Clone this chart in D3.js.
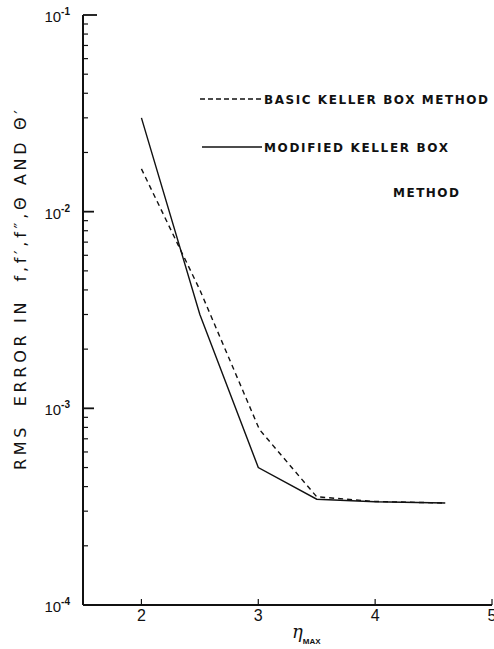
<!DOCTYPE html>
<html lang="en">
<head>
    <meta charset="UTF-8">
    <title>RMS error vs eta max</title>
    <script src="https://cdn.jsdelivr.net/npm/d3@7"></script>
    <style>
        body { margin: 0; background: #fff; }
        svg { display: block; }
        text { font-family: "Liberation Sans", Arial, sans-serif; fill: #111; white-space: pre; }
    </style>
</head>
<body>
    <div id="chart"></div>

    <script>
        // values
        const etaModified = [2, 2.5, 3, 3.5, 4, 4.6];
        const errModified = [0.030, 0.0030, 5.0e-4, 3.45e-4, 3.35e-4, 3.3e-4];
        const etaBasic = [2, 2.5, 3.01, 3.5, 4, 4.6];
        const errBasic = [0.0165, 0.0040, 7.8e-4, 3.55e-4, 3.36e-4, 3.3e-4];
        const xTicks = [2, 3, 4, 5];
        const yMajor = [1e-1, 1e-2, 1e-3, 1e-4];
        const yExponents = ["-1", "-2", "-3", "-4"];

        const width = 494, height = 649;
        const svg = d3.select('#chart').append('svg')
            .attr('width', width)
            .attr('height', height);

        const x = d3.scaleLinear().domain([1.5, 5]).range([83, 492]);
        const y = d3.scaleLog().domain([1e-4, 1e-1]).range([605, 15]);

        // minor ticks 2..9 in each decade
        const yMinor = [];
        [1e-4, 1e-3, 1e-2].forEach(d => {
            for (let k = 2; k <= 9; k++) yMinor.push(d * k);
        });

        const axes = svg.append('g').attr('stroke', '#111');

        // axis lines
        axes.append('line')
            .attr('x1', x(1.5)).attr('x2', x(1.5))
            .attr('y1', y(1e-1)).attr('y2', y(1e-4))
            .attr('stroke-width', 2);
        axes.append('line')
            .attr('x1', x(1.5)).attr('x2', x(5))
            .attr('y1', y(1e-4)).attr('y2', y(1e-4))
            .attr('stroke-width', 2);

        // y ticks point inward
        axes.selectAll('.minor')
            .data(yMinor)
            .enter().append('line')
            .attr('class', 'minor')
            .attr('x1', x(1.5)).attr('x2', x(1.5) + 5)
            .attr('y1', d => y(d)).attr('y2', d => y(d))
            .attr('stroke-width', 1.2);
        axes.selectAll('.major')
            .data(yMajor.slice(0, 3))
            .enter().append('line')
            .attr('class', 'major')
            .attr('x1', x(1.5)).attr('x2', (d, i) => x(1.5) + (i === 0 ? 14 : 11))
            .attr('y1', d => y(d)).attr('y2', d => y(d))
            .attr('stroke-width', 1.8);

        // x ticks point up
        axes.selectAll('.xtick')
            .data(xTicks)
            .enter().append('line')
            .attr('class', 'xtick')
            .attr('x1', d => x(d)).attr('x2', d => x(d))
            .attr('y1', y(1e-4)).attr('y2', y(1e-4) - 6)
            .attr('stroke-width', 1.2);

        svg.append('g').selectAll('text')
            .data(xTicks)
            .enter().append('text')
            .attr('x', d => x(d))
            .attr('y', y(1e-4) + 16)
            .attr('text-anchor', 'middle')
            .style('font-size', '16px')
            .text(d => d);

        // y labels 10^-n
        const yLab = svg.append('g').selectAll('text')
            .data(yMajor)
            .enter().append('text')
            .attr('x', 70)
            .attr('y', d => y(d) + 7)
            .attr('text-anchor', 'end')
            .style('font-size', '15px');
        yLab.append('tspan').text('10');
        yLab.append('tspan')
            .attr('dy', -7)
            .style('font-size', '10px')
            .style('font-weight', 'bold')
            .text((d, i) => yExponents[i]);

        // x label  eta_MAX
        const xl = svg.append('text')
            .attr('x', 292)
            .attr('y', 638);
        xl.append('tspan')
            .style('font-family', '"DejaVu Serif", serif')
            .style('font-style', 'italic')
            .style('font-size', '18px')
            .text('η');
        xl.append('tspan')
            .attr('dy', 6)
            .style('font-size', '8px')
            .style('font-weight', 'bold')
            .text('MAX');

        // y label
        svg.append('text')
            .attr('transform', 'translate(26,290) rotate(-90)')
            .attr('text-anchor', 'middle')
            .attr('textLength', 360)
            .attr('lengthAdjust', 'spacing')
            .style('font-family', '"DejaVu Sans", sans-serif')
            .style('font-size', '16px')
            .text('RMS  ERROR IN  f,f′,f″,Θ AND Θ′');

        // lines
        const line = d3.line()
            .x(d => x(d[0]))
            .y(d => y(d[1]));

        svg.append('path')
            .datum(d3.zip(etaModified, errModified))
            .attr('d', line)
            .attr('fill', 'none')
            .attr('stroke', '#111')
            .attr('stroke-width', 1.4);

        svg.append('path')
            .datum(d3.zip(etaBasic, errBasic))
            .attr('d', line)
            .attr('fill', 'none')
            .attr('stroke', '#111')
            .attr('stroke-width', 1.4)
            .attr('stroke-dasharray', '5,4');

        // legend
        const legendFont = '"DejaVu Sans", sans-serif';
        svg.append('line')
            .attr('x1', 200).attr('x2', 262)
            .attr('y1', 99).attr('y2', 99)
            .attr('stroke', '#111').attr('stroke-width', 1.4)
            .attr('stroke-dasharray', '5,3');
        svg.append('text')
            .attr('x', 264).attr('y', 103.5)
            .attr('textLength', 224)
            .attr('lengthAdjust', 'spacing')
            .style('font-family', legendFont)
            .style('font-size', '12px').style('font-weight', 'bold')
            .text('BASIC KELLER BOX METHOD');

        svg.append('line')
            .attr('x1', 202).attr('x2', 262)
            .attr('y1', 147).attr('y2', 147)
            .attr('stroke', '#111').attr('stroke-width', 1.4);
        svg.append('text')
            .attr('x', 264).attr('y', 151.5)
            .attr('textLength', 184)
            .attr('lengthAdjust', 'spacing')
            .style('font-family', legendFont)
            .style('font-size', '12px').style('font-weight', 'bold')
            .text('MODIFIED KELLER BOX');
        svg.append('text')
            .attr('x', 393).attr('y', 196.5)
            .attr('textLength', 66)
            .attr('lengthAdjust', 'spacing')
            .style('font-family', legendFont)
            .style('font-size', '12px').style('font-weight', 'bold')
            .text('METHOD');
    </script>
</body>
</html>
